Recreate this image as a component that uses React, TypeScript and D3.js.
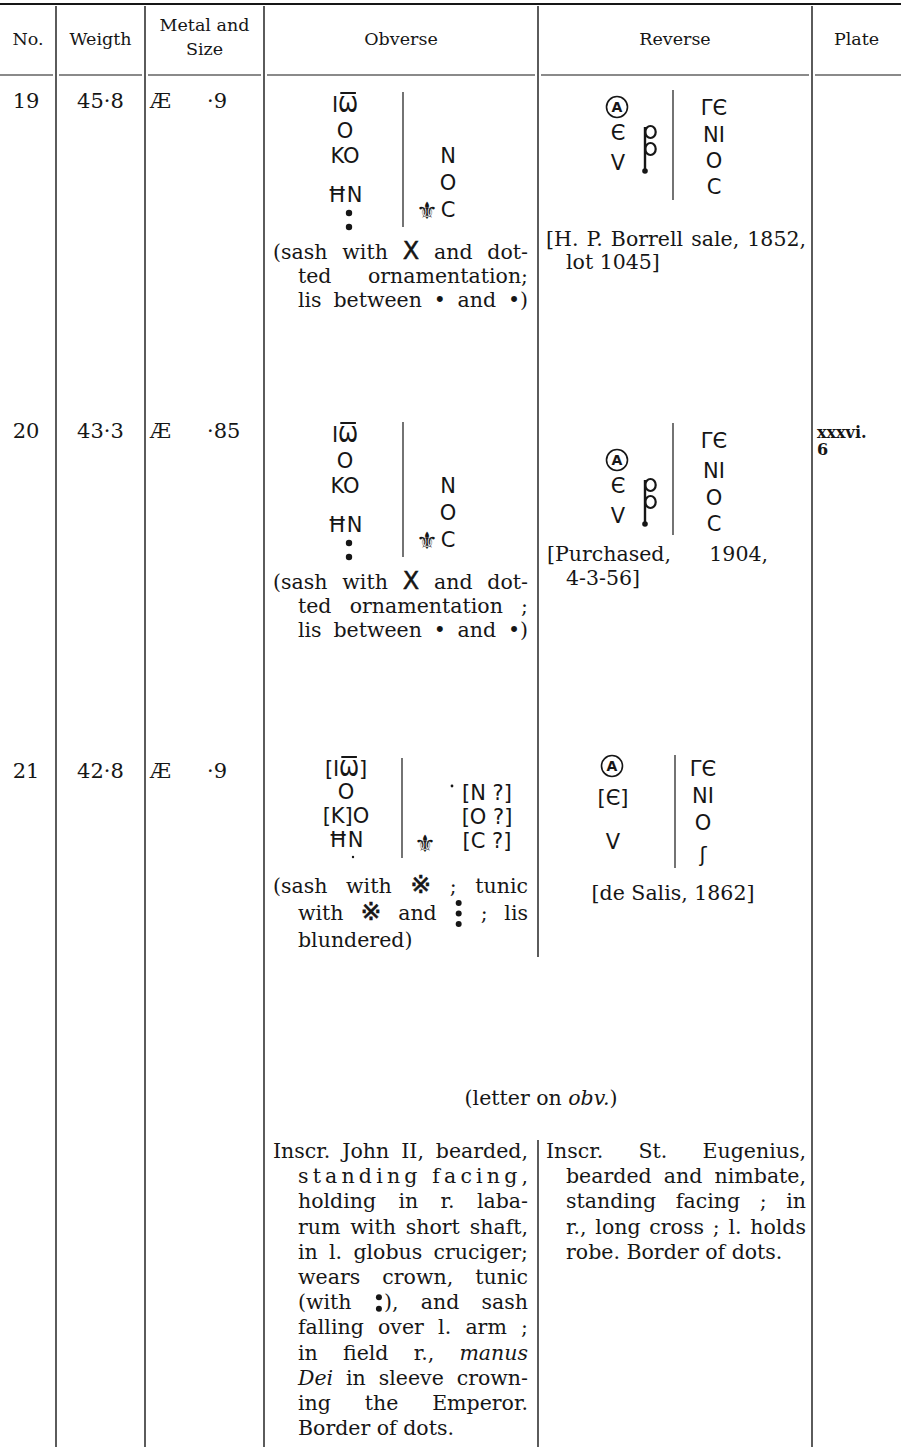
import React, { useEffect, useRef } from "react";
import * as d3 from "d3";

const W = 901;
const H = 1447;

// ---------------- data ----------------
const headerLabels = ["No.", "Weigth", "Metal and", "Obverse", "Reverse", "Plate"];
const headerSub = ["", "", "Size", "", "", ""];

const coinNumbers = ["19", "20", "21"];
const coinWeights = ["45·8", "43·3", "42·8"];
const coinMetals = ["Æ", "Æ", "Æ"];
const coinSizes = ["·9", "·85", "·9"];
const plateRefs: string[][] = [[], ["xxxvi.", "6"], []];

const obvInscrLeft = [
  ["ΙѠ", "O", "KO", "ĦN"],
  ["ΙѠ", "O", "KO", "ĦN"],
  ["[ΙѠ]", "O", "[K]O", "ĦN"],
];
const obvInscrRight = [
  ["N", "O", "C"],
  ["N", "O", "C"],
  ["[N ?]", "[O ?]", "[C ?]"],
];
const obvNotes = [
  ["(sash with {X} and dot-", "ted ornamentation;", "lis between • and •)"],
  ["(sash with {X} and dot-", "ted ornamentation ;", "lis between • and •)"],
  ["(sash with {R} ; tunic", "with {R} and {3} ; lis", "blundered)"],
];
const revInscrLeft = [
  ["Є", "V"],
  ["Є", "V"],
  ["[Є]", "V"],
];
const revInscrRight = [
  ["ΓЄ", "NI", "O", "C"],
  ["ΓЄ", "NI", "O", "C"],
  ["ΓЄ", "NI", "O", "ʃ"],
];
const revProvenance = [
  ["[H. P. Borrell sale, 1852,", "lot 1045]"],
  ["[Purchased, 1904,", "4-3-56]"],
  ["[de Salis, 1862]"],
];
const typeCaption = "(letter on _obv._)";
const typeObverse = [
  "Inscr. John II, bearded,",
  "standing facing,",
  "holding in r. laba-",
  "rum with short shaft,",
  "in l. globus cruciger;",
  "wears crown, tunic",
  "(with {2}), and sash",
  "falling over l. arm ;",
  "in field r., _manus_",
  "_Dei_ in sleeve crown-",
  "ing the Emperor.",
  "Border of dots.",
];
const typeReverse = [
  "Inscr. St. Eugenius,",
  "bearded and nimbate,",
  "standing facing ; in",
  "r., long cross ; l. holds",
  "robe. Border of dots.",
];

// ---------------- layout / style ----------------
const SERIF = "'DejaVu Serif', 'Liberation Serif', serif";
const SANS = "'DejaVu Sans', 'Noto Sans', 'Noto Sans CJK JP', sans-serif";
const INK = "#161616";
const FS = 20.5;
const GFS = 21;

const COL_EDGES = [0, 56, 145, 264, 538, 812, 901];
const ROW_BASE = [108, 438, 778];

const OBV_LEFT_X = [345, 345, 346];
const OBV_LEFT_DY = [[4, 30, 55, 94], [4, 30, 55, 94], [-2, 21, 45, 69]];
const OBV_COLON_DY = [[105, 119], [105, 119], []];
const OBV_DIV_X = [403, 403, 402];
const OBV_DIV_DY = [[-16, 119], [-16, 119], [-20, 80]];
const OBV_RIGHT_X = [448, 448, 487];
const OBV_RIGHT_DY = [[55, 82, 109], [55, 82, 109], [22, 46, 70]];
const FLEUR = [[427, 111], [427, 111], [425, 74]];
const OBV_NOTE = [
  { dy: 151, lh: 24, lastJust: true },
  { dy: 151, lh: 24, lastJust: true },
  { dy: 115, lh: 27, lastJust: false },
];

const REV_LEFT_X = [617, 617, 612];
const REV_CIRCLE_DY = [-1, 22, -12];
const REV_LEFT_DY = [[32, 62], [55, 85], [27, 71]];
const REV_MONO: (number[] | null)[] = [[645, 17], [645, 40], null];
const REV_DIV_X = [673, 673, 675];
const REV_DIV_DY = [[-18, 92], [-15, 97], [-23, 90]];
const REV_RIGHT_X = [714, 714, 703];
const REV_RIGHT_DY = [[7, 34, 60, 86], [10, 40, 67, 93], [-2, 25, 52, 84]];
const REV_PROV = [
  { dy: 138, lh: 23, x: 546, indent: 566, right: 806, center: 0 },
  { dy: 123, lh: 24, x: 547, indent: 566, right: 768, center: 0 },
  { dy: 122, lh: 24, x: 0, indent: 0, right: 0, center: 673 },
];

const CAPTION_Y = 1105;
const PARA_Y0 = 1158;
const PARA_LH = 25.2;

type Sel = d3.Selection<any, unknown, null, undefined>;

function richText(
  g: Sel,
  str: string,
  x: number,
  y: number,
  opts: { anchor?: string; right?: number; mode?: "word" | "letter" | "none"; size?: number }
) {
  const t = g
    .append("text")
    .attr("x", x)
    .attr("y", y)
    .attr("font-family", SERIF)
    .attr("font-size", opts.size || FS)
    .attr("fill", INK)
    .attr("text-anchor", opts.anchor || "start");
  const parts = str.split(/(\{[XR23]\}|_[^_]+_)/).filter((s) => s.length > 0);
  let idx = 0;
  const dotMarks: { idx: number; n: number }[] = [];
  parts.forEach((p) => {
    if (p === "{X}") {
      t.append("tspan")
        .attr("font-family", SANS)
        .attr("font-size", 24)
        .attr("stroke", INK)
        .attr("stroke-width", 0.5)
        .text("X");
      idx += 1;
    } else if (p === "{R}") {
      t.append("tspan")
        .attr("font-family", SANS)
        .attr("font-size", 25)
        .attr("stroke", INK)
        .attr("stroke-width", 0.6)
        .text("※");
      idx += 1;
    } else if (p === "{2}" || p === "{3}") {
      t.append("tspan").text("\u2002");
      dotMarks.push({ idx, n: p === "{2}" ? 2 : 3 });
      idx += 1;
    } else if (p.startsWith("_")) {
      const inner = p.slice(1, -1);
      t.append("tspan").attr("font-style", "italic").text(inner);
      idx += inner.length;
    } else {
      t.append("tspan").text(p);
      idx += p.length;
    }
  });
  const node = t.node() as SVGTextElement;
  if (opts.right !== undefined && opts.mode && opts.mode !== "none") {
    const natural = node.getComputedTextLength();
    const target = opts.right - x;
    const plain = node.textContent || "";
    if (opts.mode === "word") {
      const n = (plain.match(/ /g) || []).length;
      if (n > 0) t.style("word-spacing", `${(target - natural) / n}px`);
    } else {
      const n = plain.length - 1;
      if (n > 0) t.style("letter-spacing", `${(target - natural) / n}px`);
    }
  }
  dotMarks.forEach((m) => {
    try {
      const s = node.getStartPositionOfChar(m.idx);
      const e = node.getEndPositionOfChar(m.idx);
      const cx = (s.x + e.x) / 2;
      const ys = m.n === 2 ? [y - 12, y - 0.5] : [y - 17, y - 6.5, y + 4];
      ys.forEach((yy) => g.append("circle").attr("cx", cx).attr("cy", yy).attr("r", 3).attr("fill", INK));
    } catch (err) {
      /* ignore */
    }
  });
  return t;
}

function paragraph(
  g: Sel,
  lines: string[],
  cfg: { x: number; indent: number; right: number; y0: number; lh: number; lastJust: boolean; letterLines?: number[] }
) {
  lines.forEach((ln, i) => {
    const x = i === 0 ? cfg.x : cfg.indent;
    const isLast = i === lines.length - 1;
    const mode = cfg.letterLines && cfg.letterLines.includes(i) ? "letter" : isLast && !cfg.lastJust ? "none" : "word";
    richText(g, ln, x, cfg.y0 + i * cfg.lh, { right: cfg.right, mode: mode as any });
  });
}

function greek(g: Sel, str: string, x: number, y: number, anchor = "middle", size = GFS) {
  const t = g
    .append("text")
    .attr("x", x)
    .attr("y", y)
    .attr("font-family", SANS)
    .attr("font-size", size)
    .attr("fill", INK)
    .attr("text-anchor", anchor)
    .text(str);
  const k = str.indexOf("Ѡ");
  if (k >= 0) {
    try {
      const r = (t.node() as SVGTextElement).getExtentOfChar(k);
      g.append("line")
        .attr("x1", r.x + 2)
        .attr("x2", r.x + r.width - 2)
        .attr("y1", y - 19)
        .attr("y2", y - 19)
        .attr("stroke", INK)
        .attr("stroke-width", 2);
    } catch (err) {
      /* ignore */
    }
  }
  return t;
}

function circledA(g: Sel, cx: number, cy: number) {
  g.append("circle").attr("cx", cx).attr("cy", cy).attr("r", 10.5).attr("fill", "none").attr("stroke", INK).attr("stroke-width", 1.6);
  g.append("text")
    .attr("x", cx)
    .attr("y", cy + 5)
    .attr("font-family", SANS)
    .attr("font-size", 14)
    .attr("font-weight", "bold")
    .attr("text-anchor", "middle")
    .attr("fill", INK)
    .text("A");
}

function monogram(g: Sel, sx: number, top: number) {
  const line = d3.line();
  g.append("path")
    .attr("d", line([[sx, top + 2], [sx, top + 45]]))
    .attr("stroke", INK)
    .attr("stroke-width", 2.4)
    .attr("fill", "none");
  [7, 24].forEach((dy) =>
    g.append("ellipse")
      .attr("cx", sx + 5.5)
      .attr("cy", top + dy)
      .attr("rx", 5.2)
      .attr("ry", 6)
      .attr("stroke", INK)
      .attr("stroke-width", 2.2)
      .attr("fill", "none")
  );
  g.append("circle").attr("cx", sx).attr("cy", top + 46).attr("r", 2.8).attr("fill", INK);
}

function vline(g: Sel, x: number, y1: number, y2: number, w = 1.3) {
  g.append("line").attr("x1", x).attr("x2", x).attr("y1", y1).attr("y2", y2).attr("stroke", INK).attr("stroke-width", w);
}

export default function App() {
  const ref = useRef<SVGSVGElement>(null);

  useEffect(() => {
    if (!ref.current) return;
    const svg = d3.select(ref.current);
    svg.selectAll("*").remove();
    svg.append("rect").attr("width", W).attr("height", H).attr("fill", "#fff");

    const colX = d3.scaleOrdinal<number, number>().domain(d3.range(COL_EDGES.length)).range(COL_EDGES);
    const colCenter = (i: number) => (colX(i) + colX(i + 1)) / 2;
    const rowY = d3.scaleOrdinal<string, number>().domain(coinNumbers).range(ROW_BASE);

    const grid = svg.append("g");
    grid.append("line").attr("x1", 0).attr("x2", W).attr("y1", 4).attr("y2", 4).attr("stroke", INK).attr("stroke-width", 1.8);
    for (let i = 0; i < COL_EDGES.length - 1; i++) {
      grid.append("line")
        .attr("x1", i === 0 ? 0 : colX(i) + 3)
        .attr("x2", i === COL_EDGES.length - 2 ? W : colX(i + 1) - 3)
        .attr("y1", 75)
        .attr("y2", 75)
        .attr("stroke", INK)
        .attr("stroke-width", 1.1);
    }
    [1, 2, 3, 5].forEach((i) => vline(grid, colX(i), 6, H, 1.4));
    vline(grid, colX(4), 6, 957, 1.4);
    vline(grid, colX(4), 1140, H, 1.4);

    // header
    const hg = svg.append("g");
    headerLabels.forEach((lab, i) => {
      const sub = headerSub[i];
      const cx = colCenter(i);
      hg.append("text")
        .attr("x", cx)
        .attr("y", sub ? 31 : 45)
        .attr("font-family", SERIF)
        .attr("font-size", 17.5)
        .attr("text-anchor", "middle")
        .attr("fill", INK)
        .text(lab);
      if (sub) {
        hg.append("text")
          .attr("x", cx)
          .attr("y", 55)
          .attr("font-family", SERIF)
          .attr("font-size", 17.5)
          .attr("text-anchor", "middle")
          .attr("fill", INK)
          .text(sub);
      }
    });

    // rows
    coinNumbers.forEach((num, r) => {
      const b = rowY(num);
      const g = svg.append("g") as Sel;
      const cell = (txt: string, x: number, anchor: string, size = 21) =>
        g.append("text")
          .attr("x", x)
          .attr("y", b)
          .attr("font-family", SERIF)
          .attr("font-size", size)
          .attr("text-anchor", anchor)
          .attr("fill", INK)
          .text(txt);
      cell(num, colCenter(0) - 2, "middle");
      cell(coinWeights[r], colCenter(1), "middle");
      cell(coinMetals[r], colX(2) + 5, "start");
      cell(coinSizes[r], colX(2) + 62, "start");

      plateRefs[r].forEach((p, k) => {
        g.append("text")
          .attr("x", colX(5) + 5)
          .attr("y", b + k * 17)
          .attr("font-family", SERIF)
          .attr("font-weight", "bold")
          .attr("font-size", 16)
          .attr("fill", INK)
          .text(p);
      });

      obvInscrLeft[r].forEach((s, k) => greek(g, s, OBV_LEFT_X[r], b + OBV_LEFT_DY[r][k]));
      OBV_COLON_DY[r].forEach((dy) =>
        g.append("circle").attr("cx", OBV_LEFT_X[r] + 4).attr("cy", b + dy).attr("r", 3.2).attr("fill", INK)
      );
      if (r === 2) {
        g.append("circle").attr("cx", 353).attr("cy", b + 79).attr("r", 1.2).attr("fill", INK);
        g.append("circle").attr("cx", 452).attr("cy", b + 8).attr("r", 1.4).attr("fill", INK);
      }
      vline(g, OBV_DIV_X[r], b + OBV_DIV_DY[r][0], b + OBV_DIV_DY[r][1], 1.2);
      obvInscrRight[r].forEach((s, k) => greek(g, s, OBV_RIGHT_X[r], b + OBV_RIGHT_DY[r][k]));
      greek(g, "⚜", FLEUR[r][0], b + FLEUR[r][1], "middle", 24);

      const on = OBV_NOTE[r];
      paragraph(g, obvNotes[r], {
        x: colX(3) + 9,
        indent: colX(3) + 34,
        right: colX(4) - 10,
        y0: b + on.dy,
        lh: on.lh,
        lastJust: on.lastJust,
      });

      circledA(g, REV_LEFT_X[r], b + REV_CIRCLE_DY[r]);
      revInscrLeft[r].forEach((s, k) => greek(g, s, REV_LEFT_X[r] + 1, b + REV_LEFT_DY[r][k]));
      const mono = REV_MONO[r];
      if (mono) monogram(g, mono[0], b + mono[1]);
      vline(g, REV_DIV_X[r], b + REV_DIV_DY[r][0], b + REV_DIV_DY[r][1], 1.2);
      revInscrRight[r].forEach((s, k) => greek(g, s, REV_RIGHT_X[r], b + REV_RIGHT_DY[r][k]));

      const pv = REV_PROV[r];
      if (pv.center) {
        revProvenance[r].forEach((ln, k) =>
          richText(g, ln, pv.center, b + pv.dy + k * pv.lh, { anchor: "middle" })
        );
      } else {
        paragraph(g, revProvenance[r], {
          x: pv.x,
          indent: pv.indent,
          right: pv.right,
          y0: b + pv.dy,
          lh: pv.lh,
          lastJust: false,
        });
      }
    });

    const tg = svg.append("g") as Sel;
    richText(tg, typeCaption, colX(4) + 3, CAPTION_Y, { anchor: "middle" });
    paragraph(tg, typeObverse, {
      x: colX(3) + 9,
      indent: colX(3) + 34,
      right: colX(4) - 10,
      y0: PARA_Y0,
      lh: PARA_LH,
      lastJust: false,
      letterLines: [1],
    });
    paragraph(tg, typeReverse, {
      x: colX(4) + 8,
      indent: colX(4) + 28,
      right: colX(5) - 6,
      y0: PARA_Y0,
      lh: PARA_LH,
      lastJust: false,
    });
  }, []);

  return (
    <svg
      ref={ref}
      width={W}
      height={H}
      viewBox={`0 0 ${W} ${H}`}
      style={{ position: "absolute", left: 0, top: 0, display: "block", background: "#fff" }}
    />
  );
}
